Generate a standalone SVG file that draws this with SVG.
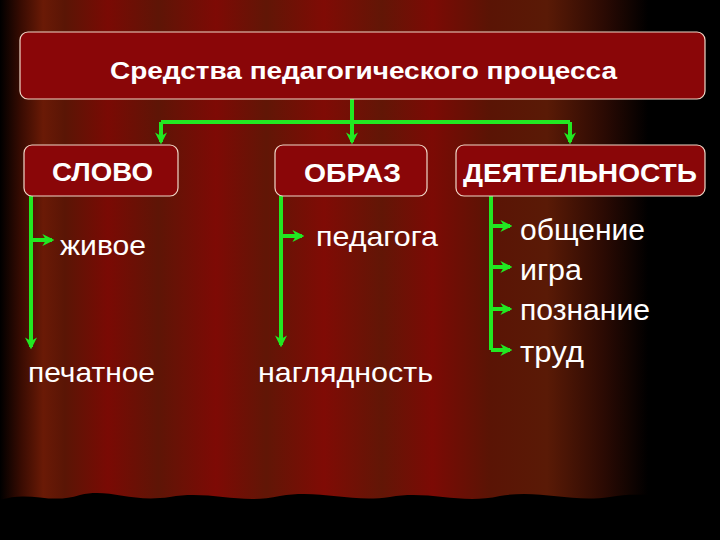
<svg xmlns="http://www.w3.org/2000/svg" width="720" height="540" viewBox="0 0 720 540">
<defs>
<linearGradient id="bg" x1="0" x2="1" y1="0" y2="0">
<stop offset="0" stop-color="#000"/>
<stop offset="0.03" stop-color="#3a0c02"/>
<stop offset="0.06" stop-color="#6a1a06"/>
<stop offset="0.09" stop-color="#5a1505"/>
<stop offset="0.15" stop-color="#7a0a04"/>
<stop offset="0.22" stop-color="#5e1506"/>
<stop offset="0.3" stop-color="#7e0a05"/>
<stop offset="0.37" stop-color="#611606"/>
<stop offset="0.45" stop-color="#800b05"/>
<stop offset="0.53" stop-color="#621606"/>
<stop offset="0.6" stop-color="#7c0a05"/>
<stop offset="0.68" stop-color="#5a1405"/>
<stop offset="0.76" stop-color="#5a1a06"/>
<stop offset="0.84" stop-color="#2a0a03"/>
<stop offset="0.9" stop-color="#000"/>
<stop offset="1" stop-color="#000"/>
</linearGradient>
<marker id="ah" viewBox="0 0 10 10" refX="8" refY="5" markerWidth="3" markerHeight="3" orient="auto" markerUnits="strokeWidth">
<path d="M0,0 L10,5 L0,10 L3,5 Z" fill="#22e822"/>
</marker>
<style>
.box{fill:#8a0608;stroke:#f0d8c8;stroke-width:1.2}
.t{font-family:"Liberation Sans",Arial,sans-serif;fill:#fff}
.b{font-weight:bold}
.c{fill:none;stroke:#22e822;stroke-width:4}
.a{marker-end:url(#ah)}
</style>
</defs>
<rect width="720" height="540" fill="url(#bg)"/>
<path d="M0,540 L0,500 C30,490 50,505 80,495 C110,488 130,503 170,497 C210,490 240,505 280,496 C320,489 350,503 390,497 C430,490 460,505 500,496 C540,489 570,503 610,497 C650,490 680,503 720,495 L720,540 Z" fill="#000"/>
<g id="connectors">
<path class="c" d="M352,99 V122 M161,122 H570"/>
<path class="c a" d="M161,122 V142"/>
<path class="c a" d="M352,122 V142"/>
<path class="c a" d="M570,122 V142"/>
<path class="c a" d="M31,196 V347"/>
<path class="c a" d="M31,240 H52"/>
<path class="c a" d="M281,196 V345"/>
<path class="c a" d="M281,236 H302"/>
<path class="c" d="M491,196 V350"/>
<path class="c a" d="M491,226 H510"/>
<path class="c a" d="M491,267 H510"/>
<path class="c a" d="M491,309 H510"/>
<path class="c a" d="M491,350 H510"/>
</g>
<g id="title"><rect class="box" x="20" y="32" width="685" height="67" rx="8"/>
<text class="t b" x="110" y="79" font-size="24" textLength="507" lengthAdjust="spacingAndGlyphs">Средства педагогического процесса</text></g>
<g id="slovo"><rect class="box" x="24" y="145" width="154" height="51" rx="8"/>
<text class="t b" x="52" y="181" font-size="26" textLength="101" lengthAdjust="spacingAndGlyphs">СЛОВО</text></g>
<g id="obraz"><rect class="box" x="275" y="145" width="152" height="51" rx="8"/>
<text class="t b" x="304" y="182" font-size="26" textLength="97" lengthAdjust="spacingAndGlyphs">ОБРАЗ</text></g>
<g id="deyat"><rect class="box" x="456" y="145" width="249" height="51" rx="8"/>
<text class="t b" x="463" y="182" font-size="26" textLength="234" lengthAdjust="spacingAndGlyphs">ДЕЯТЕЛЬНОСТЬ</text></g>
<g id="zhivoe"><text class="t" x="60" y="255" font-size="28" textLength="86" lengthAdjust="spacingAndGlyphs">живое</text></g>
<g id="pechatnoe"><text class="t" x="28" y="382" font-size="28" textLength="127" lengthAdjust="spacingAndGlyphs">печатное</text></g>
<g id="pedagoga"><text class="t" x="316" y="246" font-size="28" textLength="122" lengthAdjust="spacingAndGlyphs">педагога</text></g>
<g id="naglyadnost"><text class="t" x="258" y="382" font-size="28" textLength="175" lengthAdjust="spacingAndGlyphs">наглядность</text></g>
<g id="obshchenie"><text class="t" x="520" y="240" font-size="29" textLength="125" lengthAdjust="spacingAndGlyphs">общение</text></g>
<g id="igra"><text class="t" x="520" y="280" font-size="29" textLength="62" lengthAdjust="spacingAndGlyphs">игра</text></g>
<g id="poznanie"><text class="t" x="520" y="320" font-size="29" textLength="130" lengthAdjust="spacingAndGlyphs">познание</text></g>
<g id="trud"><text class="t" x="520" y="362" font-size="29" textLength="64" lengthAdjust="spacingAndGlyphs">труд</text></g>
</svg>
